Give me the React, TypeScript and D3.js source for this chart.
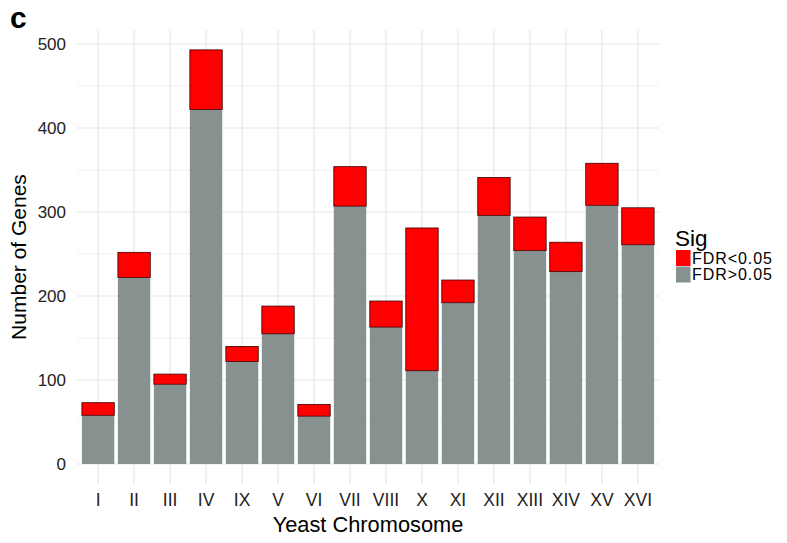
import * as d3 from "d3";

const chromosomes = ["I", "II", "III", "IV", "IX", "V", "VI", "VII", "VIII", "X", "XI", "XII", "XIII", "XIV", "XV", "XVI"];
const notSig = [58, 222, 95, 422, 122, 155, 57, 307, 163, 111, 192, 296, 254, 229, 308, 261];
const sig = [15, 30, 12, 71, 18, 33, 14, 47, 31, 170, 27, 45, 40, 35, 50, 44];
const yTicks = [0, 100, 200, 300, 400, 500];
const yMinor = [50, 150, 250, 350, 450];
const legendItems = [
  { key: "sig", label: "FDR<0.05", color: "#ff0000" },
  { key: "notSig", label: "FDR>0.05", color: "#879290" },
];

export default function App() {
  const width = 787;
  const height = 543;
  const panel = { left: 76.5, right: 659.5, top: 30, bottom: 484 };
  const font = "Liberation Sans, Arial, sans-serif";

  const rows = chromosomes.map((c, i) => ({ chr: c, notSig: notSig[i], sig: sig[i] }));
  const series = d3.stack<any>().keys(["notSig", "sig"])(rows);

  const x = d3.scalePoint<string>().domain(chromosomes).range([panel.left, panel.right]).padding(0.6);
  const y = d3.scaleLinear().domain([0, 500]).range([464, 44]);
  const bw = x.step() * 0.9;
  const color = (k: string) => legendItems.find((l) => l.key === k)!.color;

  return (
    <svg width={width} height={height} style={{ display: "block", position: "absolute", left: 0, top: 0 }} fontFamily={font}>
      <rect width={width} height={height} fill="white" />
      {/* grid */}
      <g>
        {yMinor.map((t) => (
          <line key={"m" + t} x1={panel.left} x2={panel.right} y1={y(t)} y2={y(t)} stroke="#eef1f3" strokeWidth={1} />
        ))}
        {yTicks.map((t) => (
          <line key={t} x1={panel.left} x2={panel.right} y1={y(t)} y2={y(t)} stroke="#e2e7eb" strokeWidth={1.2} />
        ))}
        {chromosomes.map((c) => (
          <line key={c} x1={x(c)} x2={x(c)} y1={panel.top} y2={panel.bottom} stroke="#e2e7eb" strokeWidth={1.2} />
        ))}
      </g>
      {/* bars */}
      {series.map((s) => (
        <g key={s.key}>
          {s.map((d, i) => (
            <rect
              key={i}
              x={x(chromosomes[i])! - bw / 2}
              y={y(d[1])}
              width={bw}
              height={y(d[0]) - y(d[1])}
              fill={color(s.key)}
              stroke={s.key === "sig" ? "#3a0000" : "none"}
              strokeWidth={s.key === "sig" ? 0.8 : 0}
            />
          ))}
        </g>
      ))}
      {/* y axis labels */}
      {yTicks.map((t) => (
        <text key={t} x={66} y={y(t)} dy="0.36em" textAnchor="end" fontSize={17} fill="#222">
          {t}
        </text>
      ))}
      {/* x axis labels */}
      {chromosomes.map((c) => (
        <text key={c} x={x(c)} y={506} textAnchor="middle" fontSize={17.5} fill="#222">
          {c}
        </text>
      ))}
      <text x={(panel.left + panel.right) / 2} y={532} textAnchor="middle" fontSize={21.8} fill="#000">
        Yeast Chromosome
      </text>
      <text transform={`translate(26,${(panel.top + panel.bottom) / 2}) rotate(-90)`} textAnchor="middle" fontSize={21} fill="#000">
        Number of Genes
      </text>
      {/* legend */}
      <text x={675} y={246} fontSize={22.5} fill="#000">Sig</text>
      {legendItems.map((l, i) => (
        <g key={l.key} transform={`translate(676,${250 + i * 16.5})`}>
          <rect width={14.5} height={16} fill={l.color} />
          <text x={16} y={8} dy="0.36em" fontSize={16} textLength={80} fill="#000">{l.label}</text>
        </g>
      ))}
      <text x={10} y={28} fontSize={30} fontWeight="bold" fill="#000">c</text>
    </svg>
  );
}
